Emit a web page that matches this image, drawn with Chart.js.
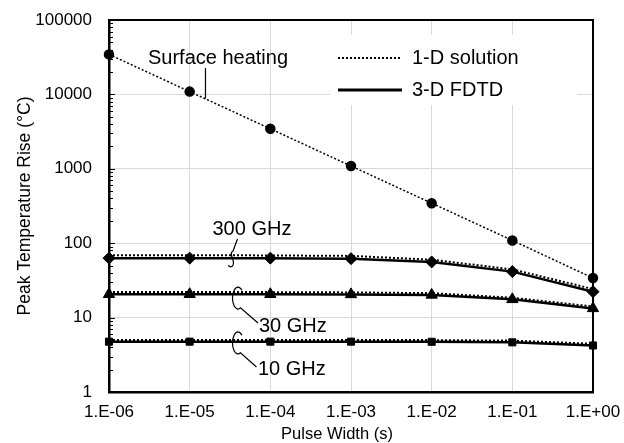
<!DOCTYPE html>
<html>
<head>
<meta charset="utf-8">
<script src="https://cdn.jsdelivr.net/npm/chart.js@4.4.0/dist/chart.umd.min.js"></script>
<style>
  html, body { margin: 0; padding: 0; background: #ffffff; }
  #chart { display: block; }
</style>
</head>
<body>
<canvas id="chart" width="624" height="443"></canvas>
<script>
/* Peak temperature rise vs pulse width - log/log */

const pulseWidths = [1e-6, 1e-5, 1e-4, 1e-3, 1e-2, 1e-1, 1e0];
const xTickValues = [1e-6, 1e-5, 1e-4, 1e-3, 1e-2, 1e-1, 1e0];
const yTickValues = [1, 10, 100, 1000, 10000, 100000];

const surfaceHeating = [34500, 10900, 3450, 1090, 345, 109, 34];
const ghz300OneD = [69, 69, 68.5, 67.5, 60, 44.5, 24.2];
const ghz300Fdtd = [63, 63, 63, 62, 56, 41.5, 22.3];
const ghz30OneD = [22, 22, 22, 21.8, 21.3, 18.5, 14.1];
const ghz30Fdtd = [20.6, 20.6, 20.6, 20.5, 20.2, 17.6, 13.3];
const ghz10OneD = [5.0, 5.0, 5.0, 5.0, 4.98, 4.9, 4.45];
const ghz10Fdtd = [4.75, 4.75, 4.75, 4.75, 4.73, 4.65, 4.22];

const FONT = '"Liberation Sans", Arial, sans-serif';

function toPoints(values) {
    return values.map((v, i) => ({ x: pulseWidths[i], y: v }));
}

function formatPulse(value) {
    const exp = Math.round(Math.log10(value));
    const sign = exp < 0 ? '-' : '+';
    return '1.E' + sign + String(Math.abs(exp)).padStart(2, '0');
}

function dotted(values, width) {
    return {
        data: toPoints(values),
        borderColor: '#000',
        borderWidth: width,
        borderDash: [2, 2],
        pointRadius: 0,
        fill: false,
        tension: 0,
        clip: false,
        order: 2
    };
}

function solid(values, style, radius) {
    return {
        data: toPoints(values),
        borderColor: '#000',
        borderWidth: 2.5,
        pointStyle: style,
        pointRadius: radius,
        pointBackgroundColor: '#000',
        pointBorderColor: '#000',
        pointBorderWidth: 1,
        fill: false,
        tension: 0,
        clip: false,
        order: 1
    };
}

const surfaceSet = dotted(surfaceHeating, 1.5);
surfaceSet.pointStyle = 'circle';
surfaceSet.pointRadius = 4.5;
surfaceSet.pointBackgroundColor = '#000';
surfaceSet.pointBorderColor = '#000';

// annotation anchors in [log10(x), log10(y)]
const notes = [
    { text: 'Surface heating', at: [-5.517, 4.483] },
    { text: '300 GHz', at: [-4.717, 2.191] },
    { text: '30 GHz', at: [-4.141, 0.874] },
    { text: '10 GHz', at: [-4.153, 0.296] }
];

const decor = {
    id: 'decor',
    afterDatasetsDraw(chart) {
        const { ctx, chartArea: a, scales } = chart;
        const px = (lx) => scales.x.getPixelForValue(Math.pow(10, lx));
        const py = (ly) => scales.y.getPixelForValue(Math.pow(10, ly));
        ctx.save();

        // minor ticks on the y axis
        ctx.strokeStyle = '#000';
        ctx.lineWidth = 1;
        for (let d = 0; d < 5; d++) {
            for (let m = 1; m <= 9; m++) {
                const y = Math.round(scales.y.getPixelForValue(m * Math.pow(10, d))) + 0.5;
                ctx.beginPath();
                ctx.moveTo(a.left, y);
                ctx.lineTo(a.left + (m === 1 ? 6 : 4), y);
                ctx.stroke();
            }
        }

        // frame top / right
        ctx.lineWidth = 2;
        ctx.beginPath();
        ctx.moveTo(a.left, a.top);
        ctx.lineTo(a.right, a.top);
        ctx.lineTo(a.right, a.bottom);
        ctx.stroke();

        // legend
        const lx = a.left + 221, ly = a.top + 15;
        ctx.fillStyle = '#fff';
        ctx.fillRect(lx, ly, 247, 70);
        ctx.strokeStyle = '#000';
        ctx.lineWidth = 2;
        ctx.setLineDash([2, 2]);
        ctx.beginPath();
        ctx.moveTo(lx + 8, ly + 23);
        ctx.lineTo(lx + 72, ly + 23);
        ctx.stroke();
        ctx.setLineDash([]);
        ctx.lineWidth = 3;
        ctx.beginPath();
        ctx.moveTo(lx + 8, ly + 55);
        ctx.lineTo(lx + 72, ly + 55);
        ctx.stroke();
        ctx.fillStyle = '#000';
        ctx.font = '20px ' + FONT;
        ctx.textBaseline = 'middle';
        ctx.textAlign = 'left';
        ctx.fillText('1-D solution', lx + 82, ly + 23);
        ctx.fillText('3-D FDTD', lx + 82, ly + 55);

        // annotation texts
        notes.forEach(n => ctx.fillText(n.text, px(n.at[0]), py(n.at[1])));

        // leaders
        ctx.lineWidth = 1.2;
        ctx.beginPath();
        ctx.moveTo(px(-4.804), py(4.355));
        ctx.lineTo(px(-4.804), py(3.945));
        ctx.stroke();

        // 300 GHz hook
        let x0 = px(-4.407), y0 = py(2.056);
        ctx.beginPath();
        ctx.moveTo(x0, y0);
        ctx.lineTo(x0 - 4.5, y0 + 12);
        ctx.bezierCurveTo(x0 - 10, y0 + 15, x0 - 1, y0 + 22, x0 - 5, y0 + 27);
        ctx.quadraticCurveTo(x0 - 8, y0 + 29, x0 - 9, y0 + 26);
        ctx.stroke();

        // 30 / 10 GHz loops
        [[-4.153, 0.927, -4.401, 1.263], [-4.172, 0.336, -4.401, 0.659]].forEach(l => {
            const cx = px(l[2]), cy = py(l[3]);
            ctx.beginPath();
            ctx.ellipse(cx, cy, 5.5, 11, 0, -0.25 * Math.PI, 0.35 * Math.PI, true);
            ctx.lineTo(px(l[0]), py(l[1]));
            ctx.stroke();
        });

        // axis titles
        ctx.font = '16.5px ' + FONT;
        ctx.textAlign = 'center';
        ctx.fillText('Pulse Width (s)', a.left + 228, 434);
        ctx.translate(25, (a.top + a.bottom) / 2);
        ctx.rotate(-Math.PI / 2);
        ctx.font = '17.5px ' + FONT;
        ctx.fillText('Peak Temperature Rise (\u00B0C)', 0, 0);
        ctx.restore();
    }
};

new Chart(document.getElementById('chart'), {
    type: 'line',
    data: {
        datasets: [
            surfaceSet,
            dotted(ghz300OneD, 2),
            dotted(ghz30OneD, 2),
            dotted(ghz10OneD, 2),
            solid(ghz300Fdtd, 'rectRot', 6),
            solid(ghz30Fdtd, 'triangle', 6.5),
            solid(ghz10Fdtd, 'rect', 5)
        ]
    },
    options: {
        responsive: false,
        animation: false,
        devicePixelRatio: 1,
        layout: { padding: { top: 20, right: 31, left: 0, bottom: 0 } },
        plugins: { legend: { display: false }, tooltip: { enabled: false } },
        scales: {
            x: {
                type: 'logarithmic',
                min: 1e-6,
                max: 1,
                afterBuildTicks: (s) => { s.ticks = xTickValues.map(v => ({ value: v })); },
                afterFit: (s) => { s.height = 51; s.paddingLeft = 0; s.paddingRight = 0; },
                grid: { color: '#d9d9d9', drawTicks: false },
                border: { color: '#000', width: 2.5 },
                ticks: {
                    callback: (v) => formatPulse(v),
                    font: { family: FONT, size: 17 },
                    color: '#000',
                    padding: 10,
                    maxRotation: 0,
                    autoSkip: false
                }
            },
            y: {
                type: 'logarithmic',
                min: 1,
                max: 100000,
                afterBuildTicks: (s) => { s.ticks = yTickValues.map(v => ({ value: v })); },
                afterFit: (s) => { s.width = 109; s.paddingTop = 0; s.paddingBottom = 0; },
                grid: { color: '#d9d9d9', drawTicks: false },
                border: { color: '#000', width: 2.5 },
                ticks: {
                    callback: (v) => String(v),
                    font: { family: FONT, size: 17 },
                    color: '#000',
                    padding: 17,
                    autoSkip: false
                }
            }
        }
    },
    plugins: [decor]
});
</script>
</body>
</html>
